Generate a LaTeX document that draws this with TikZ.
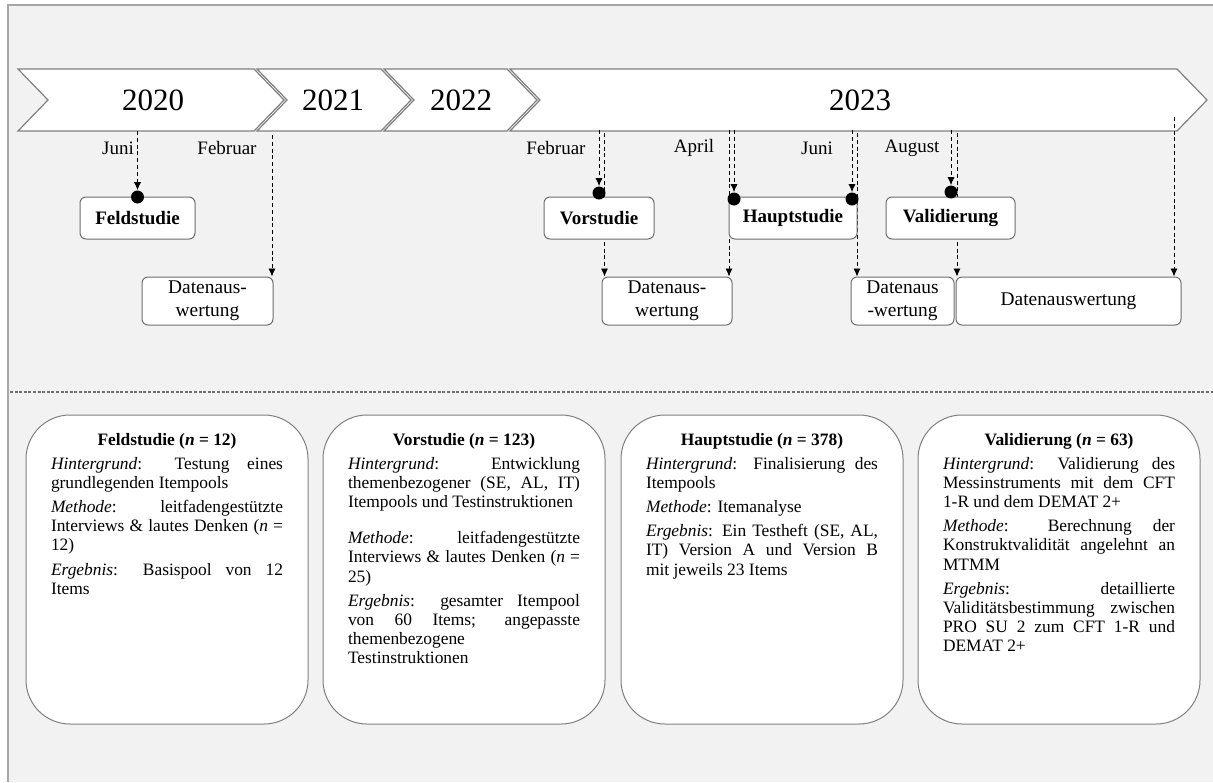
\documentclass[tikz,border=0pt]{standalone}
\usepackage{fontspec}
\setmainfont{Liberation Serif}
\usetikzlibrary{arrows.meta,calc}
\definecolor{bgc}{HTML}{F2F2F2}
\definecolor{lnc}{HTML}{808080}
\definecolor{frc}{HTML}{A6A6A6}
\definecolor{boxc}{HTML}{6E6E6E}
\definecolor{sepc}{HTML}{707070}
\pgfdeclarelayer{back}
\pgfdeclarelayer{lines}
\pgfsetlayers{back,lines,main}
\newcommand{\JLine}[1]{\hbox to\hsize{#1}}
\newcommand{\LLine}[1]{\hbox to\hsize{#1\hfil}}
\newcommand{\TLine}[1]{\hbox to\hsize{\hfil\textbf{#1}\hfil}\vskip 2pt}
\newcommand{\PGap}{\vskip 2.5pt}
\newcommand{\TBlock}[1]{\vbox{\hsize=116pt\fontsize{8.7}{9.6}\selectfont #1}}
\tikzset{
  chev/.style={fill=white, draw=lnc, line width=0.6pt, line join=miter},
  yearlbl/.style={font=\fontsize{15.5}{18}\selectfont, inner sep=0pt},
  monthlbl/.style={font=\fontsize{9.5}{11}\selectfont, inner sep=0pt},
  evbox/.style={draw=boxc, fill=white, rounded corners=3pt, line width=0.5pt,
    font=\fontsize{9.5}{11}\selectfont\bfseries, inner sep=0pt,
    minimum height=21pt},
  datbox/.style={draw=boxc, fill=white, rounded corners=3pt, line width=0.5pt,
    font=\fontsize{9.7}{11.3}\selectfont, align=center, inner sep=0pt,
    minimum height=24pt},
  dotn/.style={circle, fill=black, minimum size=6.5pt, inner sep=0pt},
  conn/.style={black, line width=0.45pt, dash pattern=on 2pt off 1.4pt,
    -{Latex[length=4pt,width=3.6pt]}},
  infobox/.style={draw=lnc, fill=white, rounded corners=22pt, line width=0.5pt,
    minimum width=141pt, minimum height=154.5pt, inner sep=0pt},
  infotext/.style={anchor=north, inner sep=0pt}
}
\begin{document}
\begin{tikzpicture}[x=0.5pt,y=-0.5pt]
\useasboundingbox (0,0) rectangle (1213,782);
\begin{pgfonlayer}{back}
  \fill[white] (0,0) rectangle (1213,782);
  \fill[bgc] (8,5) rectangle (1213,782);
  \draw[frc, line width=0.8pt] (8,782) -- (8,5) -- (1213,5);
  % timeline chevrons
  \draw[chev] (18,69) -- (254,69) -- (284,100) -- (254,131) -- (18,131) -- (48,100) -- cycle;
  \draw[chev] (257,69) -- (381,69) -- (411,100) -- (381,131) -- (257,131) -- (287,100) -- cycle;
  \draw[chev] (384,69) -- (507,69) -- (537,100) -- (507,131) -- (384,131) -- (414,100) -- cycle;
  \draw[chev] (510,69) -- (1177,69) -- (1207,100) -- (1177,131) -- (510,131) -- (540,100) -- cycle;
  % separator
  \draw[sepc, line width=0.6pt, dash pattern=on 1.5pt off 0.8pt] (10,392) -- (1213,392);
\end{pgfonlayer}

% year labels
\node[yearlbl] (y20) at (153,100) {2020};
\node[yearlbl] (y21) at (333,100) {2021};
\node[yearlbl] (y22) at (461,100) {2022};
\node[yearlbl] (y23) at (860,100) {2023};

% month labels
\node[monthlbl] (mJuni1) at (118,148) {Juni};
\node[monthlbl] (mFeb1) at (227,148) {Februar};
\node[monthlbl] (mFeb2) at (556,148) {Februar};
\node[monthlbl] (mApr) at (694,148) {April};
\node[monthlbl] (mJuni2) at (817,148) {Juni};
\node[monthlbl] (mAug) at (912,148) {August};

% event boxes
\node[evbox, minimum width=57.5pt] (feld) at (137.5,218) {Feldstudie};
\node[evbox, minimum width=55pt] (vor) at (599,218) {Vorstudie};
\node[evbox, minimum width=64pt] (haupt) at (793,218) {Hauptstudie};
\node[evbox, minimum width=64.5pt] (valid) at (950.5,218) {Validierung};

% data analysis boxes
\node[datbox, minimum width=65.5pt] (dat1) at (207.5,301) {Datenaus-\\wertung};
\node[datbox, minimum width=65pt] (dat2) at (667,301) {Datenaus-\\wertung};
\node[datbox, minimum width=51.5pt] (dat3) at (902.5,301) {Datenaus\\-wertung};
\node[datbox, minimum width=112.5pt] (dat4) at (1068.5,301) {Datenauswertung};

% dots
\node[dotn] (dF) at (137.5,197) {};
\node[dotn] (dV) at (599,193) {};
\node[dotn] (dH1) at (734,199) {};
\node[dotn] (dH2) at (852,199) {};
\node[dotn] (dVa) at (951,192) {};

% connector start points
\coordinate (s1) at (137.5,131);
\coordinate (s2) at (272,135);
\coordinate (s3a) at (599,130);
\coordinate (s3b) at (604.5,133);
\coordinate (s4a) at (729,130);
\coordinate (s4b) at (734,130);
\coordinate (s5a) at (852,130);
\coordinate (s5b) at (857,133);
\coordinate (s6a) at (951,130);
\coordinate (s6b) at (957,133);
\coordinate (s7) at (1174,117);

\begin{pgfonlayer}{lines}
  \draw[conn] (s1) -- (dF);
  \draw[conn] (s2) -- (s2 |- dat1.north);
  \draw[conn] (s3a) -- (dV);
  \draw[conn] (s3b) -- (s3b |- dat2.north);
  \draw[conn] (s4a) -- (s4a |- dat2.north);
  \draw[conn] (s4b) -- (dH1);
  \draw[conn] (s5a) -- (dH2);
  \draw[conn] (s5b) -- (s5b |- dat3.north);
  \draw[conn] (s6a) -- (dVa);
  \draw[conn] (s6b) -- (s6b |- dat4.north);
  \draw[conn] (s7) -- (s7 |- dat4.north);
\end{pgfonlayer}

% info boxes
\node[infobox] (b1) at (167,569.5) {};
\node[infobox] (b2) at (464,569.5) {};
\node[infobox] (b3) at (762,569.5) {};
\node[infobox] (b4) at (1059,569.5) {};

\node[infotext] (t1) at ($(b1.north)+(0,19)$) {\TBlock{%
\TLine{Feldstudie (\textit{n} = 12)}
\JLine{\textit{Hintergrund}: Testung eines}
\LLine{grundlegenden Itempools}\PGap
\JLine{\textit{Methode}: leitfadengestützte}
\JLine{Interviews \& lautes Denken (\textit{n} =}
\LLine{12)}\PGap
\JLine{\textit{Ergebnis}: Basispool von 12}
\LLine{Items}}};

\node[infotext] (t2) at ($(b2.north)+(0,19)$) {\TBlock{%
\TLine{Vorstudie (\textit{n} = 123)}
\JLine{\textit{Hintergrund}: Entwicklung}
\JLine{themenbezogener (SE, AL, IT)}
\LLine{Itempools und Testinstruktionen}\vskip 8.5pt
\JLine{\textit{Methode}: leitfadengestützte}
\JLine{Interviews \& lautes Denken (\textit{n} =}
\LLine{25)}\PGap
\JLine{\textit{Ergebnis}: gesamter Itempool}
\JLine{von 60 Items; angepasste}
\LLine{themenbezogene}
\LLine{Testinstruktionen}}};

\node[infotext] (t3) at ($(b3.north)+(0,19)$) {\TBlock{%
\TLine{Hauptstudie (\textit{n} = 378)}
\JLine{\textit{Hintergrund}: Finalisierung des}
\LLine{Itempools}\PGap
\LLine{\textit{Methode}: Itemanalyse}\PGap
\JLine{\textit{Ergebnis}: Ein Testheft (SE, AL,}
\JLine{IT) Version A und Version B}
\LLine{mit jeweils 23 Items}}};

\node[infotext] (t4) at ($(b4.north)+(0,19)$) {\TBlock{%
\TLine{Validierung (\textit{n} = 63)}
\JLine{\textit{Hintergrund}: Validierung des}
\JLine{Messinstruments mit dem CFT}
\LLine{1-R und dem DEMAT 2+}\PGap
\JLine{\textit{Methode}: Berechnung der}
\JLine{Konstruktvalidität angelehnt an}
\LLine{MTMM}\PGap
\JLine{\textit{Ergebnis}: detaillierte}
\JLine{Validitätsbestimmung zwischen}
\JLine{PRO SU 2 zum CFT 1-R und}
\LLine{DEMAT 2+}}};
\end{tikzpicture}
\end{document}
